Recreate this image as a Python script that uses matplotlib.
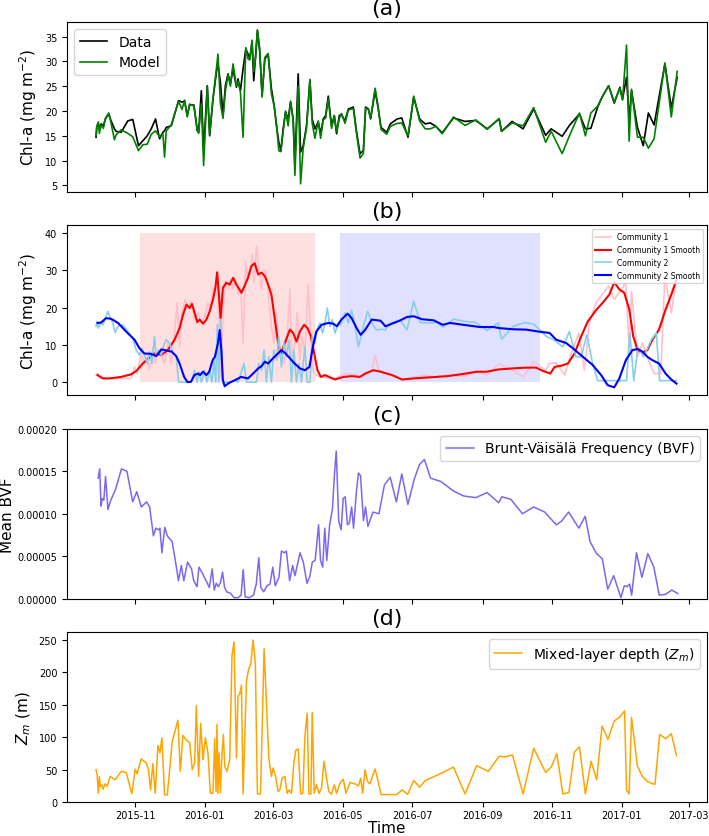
import numpy as np
import pandas as pd
import matplotlib
matplotlib.use('Agg')
import matplotlib.pyplot as plt
import matplotlib.dates as mdates
from matplotlib.ticker import FormatStrFormatter, MultipleLocator

# all x values are days after this date
base = pd.Timestamp('2015-11-01')

# ---- panel (a): measured vs modelled chl-a ------------------------------
chl_days = [-34.3, -33.7, -32.3, -31.4, -29.9, -27.9, -26.1, -23.2, -21.1, -18.2,
            -16.7, -12.3, -6.5, -2.1, 2.9, 6.7, 10.6, 14.1, 17.9, 21.4,
            24.3, 25.8, 27.3, 31.7, 38.1, 41.1, 43.4, 45.7, 47.8, 51.6,
            54.5, 55.7, 58.1, 60.1, 63.3, 65.4, 68.3, 71.3, 72.7, 74.8,
            77.1, 79.2, 81.5, 83.6, 85.9, 88.9, 90.3, 92.4, 94.7, 97.1,
            99.1, 100.6, 102.6, 104.1, 105.9, 107.3, 109.4, 111.4, 113.8, 116.7,
            119.6, 122.0, 124.0, 126.1, 127.9, 129.9, 132.0, 134.3, 136.4, 138.7,
            140.2, 143.1, 145.2, 147.5, 150.4, 153.4, 155.4, 157.8, 160.7, 162.8,
            165.1, 167.2, 169.5, 172.4, 174.8, 176.8, 179.2, 181.2, 184.2, 187.1,
            191.5, 194.4, 197.4, 200.3, 202.3, 204.7, 206.7, 210.6, 212.9, 215.8,
            220.8, 224.0, 230.0, 234.0, 239.5, 244.5, 249.7, 254.6, 259.0, 264.0,
            269.5, 279.4, 289.6, 299.0, 309.0, 319.5, 321.6, 330.9, 340.5, 349.8,
            360.3, 365.2, 374.8, 381.2, 390.0, 395.2, 400.0, 406.0, 409.8, 415.6,
            420.5, 425.5, 427.8, 431.3, 433.6, 435.7, 440.9, 446.0, 450.5, 455.5,
            465.0, 470.6, 475.8]
chl_data = [14.7, 16.7, 17.4, 16.4, 17.4, 17.0, 18.4, 19.4, 18.0, 16.4,
            15.9, 15.7, 18.0, 18.3, 13.0, 14.0, 15.0, 16.4, 18.4, 14.4,
            15.7, 16.0, 16.7, 17.0, 22.1, 21.8, 22.0, 19.1, 21.2, 21.2,
            16.0, 15.7, 24.1, 12.0, 25.1, 15.0, 22.4, 27.8, 29.5, 25.8,
            19.1, 25.1, 27.5, 25.5, 28.5, 24.8, 26.5, 24.1, 28.5, 32.5,
            31.5, 30.5, 33.9, 26.1, 31.8, 36.2, 31.8, 23.1, 30.5, 31.5,
            24.5, 21.1, 17.1, 13.7, 12.0, 16.4, 19.8, 18.4, 21.8, 18.4,
            9.0, 27.5, 11.7, 13.0, 17.0, 26.1, 18.4, 16.4, 17.8, 15.4,
            18.4, 19.1, 23.0, 17.0, 19.1, 15.4, 19.1, 19.2, 18.0, 20.4,
            20.8, 15.7, 11.4, 12.0, 20.8, 20.4, 18.4, 24.1, 21.1, 16.7,
            15.7, 17.4, 18.4, 18.6, 14.7, 22.8, 18.4, 17.4, 17.6, 16.9,
            15.6, 18.6, 17.9, 18.1, 16.4, 18.4, 15.9, 17.9, 16.4, 20.4,
            15.1, 16.4, 14.9, 17.1, 19.4, 16.4, 16.5, 20.8, 22.8, 25.1,
            21.6, 24.8, 22.4, 26.8, 18.4, 24.1, 16.7, 13.0, 19.6, 17.2,
            29.5, 20.6, 26.8]
chl_model = [15.0, 17.0, 17.8, 15.5, 17.2, 16.5, 18.5, 19.6, 17.5, 14.2,
             15.2, 16.2, 15.5, 14.8, 12.0, 13.2, 13.3, 15.3, 16.0, 14.8,
             15.5, 10.7, 16.0, 17.2, 22.0, 20.3, 22.2, 18.8, 21.4, 21.0,
             16.2, 15.5, 21.5, 9.0, 25.0, 15.2, 22.5, 28.5, 31.5, 21.5,
             18.5, 24.0, 27.3, 25.0, 29.5, 25.0, 26.0, 23.8, 14.7, 32.8,
             30.5, 30.3, 34.3, 28.0, 31.0, 36.4, 32.5, 22.8, 30.8, 31.6,
             23.5, 21.0, 17.5, 12.0, 11.8, 15.8, 20.0, 17.0, 22.0, 18.0,
             7.0, 25.0, 5.3, 12.5, 16.5, 26.4, 17.5, 14.5, 18.0, 14.5,
             18.2, 18.6, 22.4, 16.5, 19.0, 15.8, 18.5, 19.5, 17.5, 20.2,
             20.5, 15.3, 10.5, 11.4, 20.6, 20.3, 18.6, 24.6, 21.5, 16.3,
             15.3, 16.9, 17.5, 17.6, 15.0, 23.0, 18.0, 16.4, 16.4, 16.9,
             15.4, 18.8, 17.1, 18.2, 16.3, 18.5, 15.9, 17.6, 17.0, 20.7,
             13.7, 15.9, 11.4, 15.0, 19.6, 15.0, 19.6, 21.0, 22.8, 25.1,
             21.8, 24.6, 22.2, 33.3, 13.9, 24.4, 14.7, 14.7, 12.5, 14.4,
             29.7, 18.8, 28.0]

# ---- panel (b): two communities (day, value) ----------------------------
comm1 = [(-34.3, 1.9), (-32.8, 2.3), (-31.4, 1.3), (-28.4, 1.0), (-21.1, 1.0),
         (-12.3, 1.0), (-3.5, 1.0), (-0.6, 4.1), (1.8, 2.3), (5.3, 7.7),
         (8.2, 5.0), (10.6, 6.8), (12.6, 3.2), (15.5, 9.1), (17.6, 5.0),
         (20.5, 8.6), (22.9, 7.3), (25.8, 5.0), (28.7, 10.5), (31.7, 5.0),
         (34.6, 13.2), (36.9, 21.3), (39.0, 9.5), (41.1, 18.6), (44.0, 22.2),
         (46.3, 20.4), (49.3, 21.7), (52.2, 16.8), (55.1, 18.6), (58.1, 15.9),
         (61.0, 17.7), (63.9, 21.3), (65.9, 19.5), (68.3, 24.9), (70.7, 25.8),
         (72.1, 29.4), (73.6, 16.8), (75.1, 1.4), (77.1, 19.5), (79.2, 27.1),
         (81.5, 24.9), (83.6, 27.6), (85.9, 24.9), (88.0, 27.6), (90.3, 23.5),
         (92.7, 24.9), (94.7, 10.5), (97.1, 32.1), (99.1, 27.6), (101.2, 29.4),
         (102.9, 34.3), (104.4, 26.7), (106.5, 36.6), (108.5, 31.2), (110.9, 24.9),
         (112.9, 30.3), (115.2, 29.8), (117.3, 22.2), (119.6, 15.0), (121.7, 10.5),
         (124.0, 18.6), (126.1, 6.8), (128.4, 8.6), (130.8, 5.0), (132.8, 8.6),
         (135.8, 24.9), (137.8, 5.0), (140.2, 10.5), (142.2, 18.6), (144.6, 5.9),
         (146.6, 12.3), (149.0, 7.7), (151.9, 26.2), (154.3, 11.4), (156.3, 2.8),
         (159.2, 1.9), (162.2, 1.4), (166.6, 1.3), (171.0, 1.0), (175.4, 1.0),
         (181.2, 1.9), (187.1, 2.3), (193.0, 1.9), (198.8, 1.6), (203.2, 2.3),
         (207.6, 2.8), (210.6, 7.3), (213.5, 3.2), (215.4, 2.8), (224.0, 1.9),
         (234.3, 0.7), (244.5, 1.3), (254.6, 1.9), (264.0, 1.4), (273.6, 1.9),
         (289.6, 1.6), (299.7, 2.8), (309.0, 1.9), (319.5, 5.0), (330.9, 3.2),
         (340.5, 1.4), (349.8, 5.5), (360.3, 3.2), (363.8, 5.0), (369.6, 5.2),
         (377.0, 1.9), (382.8, 7.7), (389.4, 13.2), (394.3, 3.2), (398.7, 15.9),
         (404.5, 21.3), (409.8, 23.5), (415.6, 25.8), (420.5, 22.2), (425.5, 24.4),
         (430.7, 26.7), (433.6, 8.6), (435.7, 24.4), (441.0, 6.8), (445.3, 10.5),
         (450.5, 5.9), (455.5, 2.3), (461.3, 2.3), (465.0, 28.5), (470.6, 18.6),
         (475.2, 28.0)]
comm1_smooth = [(-33, 1.9), (-28.4, 1.0), (-22.6, 1.0), (-12.3, 1.4), (-3.5, 2.1),
                (1, 3.0), (6.7, 5.0), (11.7, 6.4), (17, 7.7), (23, 7.3),
                (28.7, 8.6), (34.6, 11.4), (39, 14.5), (42, 18.1), (45, 20.8),
                (47.8, 19.9), (49.9, 21.0), (52.2, 18.6), (54.5, 16.1), (56.6, 16.8),
                (59.5, 15.7), (62.5, 16.8), (65.4, 19.0), (68.3, 22.2), (70.4, 25.3),
                (72, 29.5), (73.6, 23.0), (75, 17.2), (77, 25.3), (80, 26.7),
                (83, 26.2), (86, 28.0), (88.9, 26.2), (93.3, 24.0), (96, 25.8),
                (99, 28.0), (102, 31.2), (105, 31.9), (108, 28.9), (110.8, 29.4),
                (113.8, 28.5), (116.7, 26.2), (119.6, 23.5), (122.6, 16.8), (125.5, 10.5),
                (127.9, 7.7), (131.4, 10.5), (135.8, 14.1), (138.7, 13.2), (141.6, 10.9),
                (144.6, 13.6), (148.4, 15.4), (151.3, 14.5), (154.3, 12.3), (157.2, 7.7),
                (160, 3.2), (163, 1.4), (166.6, 1.9), (171, 1.3), (175.4, 0.7),
                (182.7, 1.4), (190, 1.6), (197.4, 1.4), (201.8, 2.3), (209, 3.2),
                (215.4, 2.8), (225.5, 1.9), (234.3, 0.7), (244.5, 1.0), (259, 1.3),
                (273.6, 1.6), (288, 2.2), (299.7, 2.8), (308.5, 2.8), (318.7, 3.4),
                (331.8, 3.7), (343.4, 3.9), (352, 3.9), (358, 3.0), (364.4, 2.3),
                (368.2, 4.1), (374, 4.4), (379.8, 5.0), (385.7, 7.7), (391.5, 12.3),
                (397.3, 16.3), (404.5, 19.3), (410.3, 21.3), (416.2, 23.5), (420.5, 26.8),
                (425, 24.9), (429.3, 24.0), (433.7, 19.5), (437.2, 12.3), (441, 8.6),
                (445.3, 7.9), (449.6, 8.6), (454, 11.4), (459.8, 14.1), (465.6, 19.5),
                (470.6, 23.5), (475.2, 27.6)]
comm2 = [(-34.3, 15.0), (-33.4, 16.3), (-32.3, 14.5), (-30.5, 15.9), (-28.4, 15.4),
         (-26.1, 17.2), (-24.0, 19.0), (-21.7, 17.2), (-19.6, 15.9), (-17.6, 13.3),
         (-15.2, 15.0), (-10.9, 15.4), (-6.5, 13.6), (-2.1, 11.8), (0.9, 8.6),
         (3.8, 7.3), (5.9, 9.1), (8.2, 7.3), (10.6, 5.0), (12.6, 8.2),
         (14.7, 5.0), (17.0, 12.3), (18.5, 6.8), (20.5, 8.6), (22.9, 7.3),
         (25.2, 10.0), (27.3, 11.4), (30.2, 10.5), (33.1, 7.7), (36.1, 6.8),
         (38.1, 0.0), (44.9, 0.0), (49.3, 0.0), (52.2, 3.2), (54.3, 0.0),
         (56.0, 2.8), (58.1, 0.0), (61.0, 3.2), (63.0, 0.0), (65.4, 3.2),
         (67.4, 0.0), (69.2, 5.9), (70.7, 0.0), (72.1, 15.4), (73.3, 0.0),
         (75.1, 16.8), (76.5, 0.5), (78.6, 0.0), (84.5, 0.0), (87.4, 0.5),
         (90.3, 0.0), (95.6, 5.0), (97.7, 0.0), (106.5, 0.0), (108.5, 5.0),
         (110.9, 3.2), (113.2, 8.6), (115.2, 0.0), (117.3, 6.8), (119.6, 0.0),
         (121.7, 8.6), (124.0, 5.9), (126.1, 12.3), (128.4, 4.1), (130.8, 10.5),
         (132.8, 6.8), (135.2, 11.4), (137.2, 0.0), (139.3, 8.6), (141.6, 0.0),
         (143.7, 5.0), (146.0, 0.0), (149.0, 9.5), (151.0, 0.0), (153.4, 0.0),
         (155.4, 12.3), (157.8, 10.5), (159.8, 14.0), (162.2, 15.9), (164.5, 13.2),
         (166.6, 15.9), (168.6, 19.9), (171.0, 15.0), (173.0, 16.8), (175.4, 13.2),
         (177.7, 15.0), (181.2, 15.9), (184.2, 18.6), (187.1, 15.9), (190.0, 19.3),
         (193.0, 15.0), (195.9, 9.5), (198.2, 12.3), (201.2, 15.9), (204.1, 19.0),
         (207.6, 15.9), (212.0, 14.0), (216.4, 14.2), (219.7, 14.0), (224.0, 15.9),
         (232.8, 16.6), (238.6, 14.0), (244.5, 21.7), (250.3, 16.0), (259.0, 15.9),
         (264.8, 16.0), (270.0, 14.8), (279.4, 16.9), (289.6, 16.3), (299.0, 16.0),
         (309.0, 13.9), (318.7, 15.9), (321.6, 11.5), (331.8, 15.0), (342.0, 16.0),
         (349.8, 15.6), (360.8, 12.3), (366.7, 11.5), (375.4, 9.5), (381.2, 13.6),
         (387.0, 6.8), (391.5, 6.8), (396.4, 12.7), (401.6, 5.0), (406.0, 0.4),
         (420.5, 0.4), (431.3, 0.4), (434.2, 13.2), (437.7, 0.4), (441.4, 9.5),
         (446.0, 6.8), (450.3, 9.5), (453.0, 11.4), (457.5, 13.2), (460.4, 0.4),
         (475.2, 0.4)]
comm2_smooth = [(-33, 15.9), (-30, 16.0), (-25.5, 17.2), (-21, 17.0), (-15, 15.9),
                (-8, 13.6), (-0.6, 11.4), (3.8, 9.1), (8, 7.7), (14, 7.6),
                (18.5, 7.0), (23, 8.8), (26, 8.6), (32, 8.2), (36, 7.0),
                (39, 5.0), (43, 1.4), (46, 0.0), (49, 0.1), (52, 1.9),
                (55, 2.3), (57, 1.9), (59.5, 2.8), (62.5, 1.9), (65, 2.8),
                (68, 5.9), (70, 6.8), (72.7, 10.5), (74.2, 14.0), (75.7, 8.6),
                (77, 0.5), (78.6, -1.1), (81.5, -0.4), (84.5, 0.1), (87.4, 0.5),
                (93, 1.4), (99, 1.0), (103.5, 2.3), (108, 3.7), (111, 4.3),
                (113.8, 5.5), (116.7, 5.0), (120, 6.1), (124, 7.3), (128.4, 8.6),
                (132, 7.7), (135.8, 6.4), (140, 5.0), (144.6, 3.7), (149, 3.2),
                (153, 4.1), (156, 9.5), (159, 13.6), (163.6, 15.4), (169.5, 15.9),
                (174, 15.7), (177, 15.0), (181, 16.8), (186.5, 18.4), (190, 17.2),
                (194.4, 14.5), (198, 12.7), (201.8, 14.0), (207.6, 16.8), (215.4, 16.5),
                (219.7, 15.0), (225.5, 15.7), (232.8, 16.6), (238.6, 17.5), (244.5, 17.7),
                (251.7, 16.9), (262, 16.6), (270, 15.4), (276.5, 15.9), (288, 15.4),
                (302.6, 14.8), (314.3, 14.8), (320, 14.5), (331.8, 14.2), (343.4, 14.1),
                (353.6, 13.6), (363.8, 13.2), (369.6, 11.4), (378.3, 10.5), (384.2, 9.1),
                (393, 6.8), (401.6, 4.6), (409, 1.9), (414.7, -0.8), (420.5, -1.4),
                (425, 1.0), (430.7, 5.9), (436.5, 8.6), (441, 8.9), (445.3, 8.2),
                (449.6, 6.8), (454, 5.9), (459.8, 5.0), (465.6, 2.3), (470.6, 0.7),
                (475.2, -0.4)]
spans_c1 = ['2015-11-05', '2016-04-07']
spans_c2 = ['2016-04-29', '2016-10-21']

# ---- panel (c): mean BVF, values in 1e-5 ---------------------------------
bvf = [(-32.5, 14.2), (-31.1, 15.3), (-30.0, 10.9), (-28.9, 11.8), (-27.5, 11.6),
       (-26.0, 14.4), (-23.9, 10.5), (-21.7, 11.5), (-17.4, 12.8), (-12.0, 15.3),
       (-7.2, 15.0), (-2.2, 11.4), (1.4, 12.6), (5.4, 10.8), (10.0, 11.4),
       (12.7, 10.8), (16.0, 7.4), (18.1, 8.3), (20.6, 8.1), (21.7, 8.3),
       (23.5, 5.4), (26.0, 8.4), (28.2, 7.4), (32.5, 6.7), (36.2, 3.7),
       (38.0, 2.1), (40.5, 3.9), (42.7, 2.1), (46.0, 4.3), (49.5, 3.5),
       (51.4, 2.1), (54.3, 1.4), (56.0, 3.7), (59.3, 2.9), (63.0, 1.9),
       (65.1, 1.3), (67.6, 3.5), (69.4, 1.0), (71.2, 1.8), (73.1, 1.4),
       (74.9, 1.9), (76.7, 3.1), (78.5, 1.3), (80.3, 0.8), (83.9, 0.6),
       (86.8, 0.1), (90.4, 0.1), (93.0, 0.4), (94.8, 3.4), (96.6, 0.2),
       (100.2, 0.1), (103.8, 0.4), (106.3, 1.7), (108.5, 4.8), (110.3, 1.3),
       (112.8, 0.8), (115.7, 1.5), (118.3, 1.7), (120.8, 3.7), (123.0, 1.5),
       (126.2, 2.5), (128.4, 5.6), (131.0, 5.4), (132.7, 5.6), (135.6, 2.1),
       (138.2, 3.9), (140.3, 2.7), (144.7, 5.4), (147.6, 4.3), (150.8, 1.8),
       (153.3, 2.6), (155.5, 4.3), (158.0, 4.5), (161.0, 8.7), (162.7, 4.5),
       (164.6, 3.7), (166.4, 8.3), (168.2, 4.5), (170.7, 8.7), (173.2, 10.6),
       (175.0, 14.8), (176.5, 17.4), (178.7, 9.1), (180.8, 8.1), (182.6, 11.8),
       (184.4, 12.0), (186.3, 8.7), (188.0, 8.9), (190.0, 10.8), (191.7, 8.3),
       (194.2, 12.6), (196.0, 14.8), (197.8, 14.5), (200.4, 9.2), (202.2, 10.8),
       (204.3, 8.5), (208.7, 10.2), (214.0, 10.0), (218.8, 13.4), (223.9, 14.3),
       (229.3, 11.4), (234.0, 14.7), (239.4, 11.1), (244.8, 14.0), (249.5, 15.8),
       (253.9, 16.4), (259.3, 14.2), (268.4, 13.8), (279.2, 12.7), (288.2, 12.1),
       (299.0, 11.9), (308.9, 12.5), (319.0, 11.3), (321.9, 12.0), (329.8, 11.7),
       (340.0, 10.0), (349.7, 10.8), (359.5, 10.2), (369.6, 8.7), (374.0, 9.1),
       (380.5, 10.2), (389.5, 8.3), (395.0, 9.7), (399.3, 6.7), (405.0, 5.3),
       (410.0, 4.7), (414.8, 1.1), (420.0, 2.7), (426.4, 0.1), (429.3, 1.5),
       (431.8, 1.4), (434.0, 1.7), (435.8, 0.4), (440.0, 5.4), (444.8, 2.5),
       (450.0, 5.3), (455.3, 3.7), (460.0, 0.4), (465.5, 0.5), (471.0, 1.0),
       (476.3, 0.6)]

# ---- panel (d): mixed-layer depth (m) ------------------------------------
zm = [(-34.3, 49.7), (-33.4, 42.0), (-32.3, 13.5), (-31.4, 39.3), (-30.5, 23.8),
      (-29.3, 26.4), (-28.2, 19.7), (-26.4, 28.0), (-24.6, 23.8), (-22.0, 39.3),
      (-17.6, 34.2), (-12.3, 47.1), (-7.9, 45.5), (-2.9, 12.4), (0.0, 50.7),
      (1.8, 43.5), (5.3, 66.3), (9.7, 60.0), (11.7, 49.7), (13.5, 18.6),
      (15.5, 59.0), (17.6, 13.5), (20.0, 87.0), (21.7, 75.6), (23.5, 98.9),
      (25.8, 10.9), (28.2, 10.9), (32.6, 93.7), (37.5, 125.8), (39.6, 47.1),
      (41.9, 102.5), (45.7, 93.7), (47.8, 92.1), (50.1, 49.7), (52.2, 60.0),
      (53.7, 148.0), (55.7, 39.3), (57.5, 121.0), (59.5, 65.2), (61.6, 98.9),
      (63.9, 75.6), (66.0, 13.5), (68.3, 13.5), (69.8, 97.3), (71.0, 16.0),
      (71.8, 119.6), (72.7, 13.5), (73.6, 75.6), (74.8, 14.5), (76.2, 73.0),
      (77.4, 104.0), (78.6, 54.9), (80.6, 47.1), (83.0, 65.2), (85.0, 225.7),
      (86.8, 246.4), (88.9, 67.8), (90.3, 163.6), (91.8, 166.1), (93.3, 180.1),
      (94.7, 12.4), (97.7, 186.9), (99.7, 205.0), (101.5, 212.7), (103.5, 249.0),
      (105.5, 212.7), (107.3, 12.4), (110.0, 12.4), (113.2, 236.0), (115.2, 153.2),
      (117.3, 67.8), (119.6, 39.3), (121.1, 52.3), (123.2, 39.3), (125.5, 16.0),
      (127.0, 18.6), (129.0, 36.7), (131.4, 39.3), (133.4, 13.5), (135.2, 18.6),
      (137.2, 13.5), (139.3, 60.0), (141.0, 79.7), (143.1, 81.8), (145.2, 12.4),
      (147.2, 13.5), (149.0, 101.4), (151.0, 136.6), (152.5, 12.4), (154.3, 12.4),
      (155.4, 137.7), (157.2, 13.5), (159.2, 26.4), (161.3, 13.5), (163.6, 21.2),
      (165.7, 62.6), (168.0, 36.7), (170.0, 16.0), (172.4, 11.9), (174.8, 26.4),
      (176.8, 13.5), (179.8, 29.0), (182.7, 35.2), (185.0, 13.5), (188.6, 30.0),
      (193.0, 28.0), (196.0, 24.8), (198.0, 36.7), (199.7, 13.5), (201.8, 49.7),
      (204.0, 31.6), (206.0, 28.0), (210.6, 50.7), (213.0, 34.2), (215.8, 11.4),
      (220.8, 11.4), (229.3, 11.4), (234.3, 18.6), (239.2, 11.9), (244.5, 33.1),
      (249.7, 22.8), (254.6, 33.1), (267.7, 43.5), (279.4, 53.8), (289.6, 12.4),
      (299.8, 55.9), (310.0, 47.1), (319.5, 70.4), (324.5, 69.4), (331.2, 72.5),
      (340.5, 12.4), (349.8, 82.8), (360.3, 45.5), (365.2, 53.8), (370.2, 74.5),
      (375.4, 12.4), (380.7, 14.5), (385.6, 77.1), (390.0, 84.9), (395.2, 12.4),
      (400.2, 62.6), (405.1, 34.2), (409.8, 117.0), (415.0, 96.3), (420.5, 124.7),
      (424.9, 130.0), (429.6, 140.3), (431.3, 18.6), (433.6, 12.4), (435.7, 130.0),
      (440.9, 54.9), (445.3, 39.3), (449.6, 31.6), (454.0, 28.0), (456.3, 27.4),
      (460.4, 104.0), (465.6, 97.3), (470.6, 105.1), (475.2, 71.4)]


def to_dates(days):
    return base + pd.to_timedelta(np.asarray(days, dtype=float), unit='D')


def split(pairs):
    d, v = zip(*pairs)
    return to_dates(d), np.array(v)


#------------------------------------------------------------
fig, axes = plt.subplots(4, 1, sharex=True, figsize=(7.09, 8.37), dpi=100)
fig.subplots_adjust(left=0.0945, right=0.997, top=0.9725, bottom=0.0406, hspace=0.2)
ax_a, ax_b, ax_c, ax_d = axes

# (a)
t = to_dates(chl_days)
ax_a.plot(t, chl_data, color='black', lw=1.2, label='Data')
ax_a.plot(t, chl_model, color='green', lw=1.2, label='Model')
ax_a.set_ylabel('Chl-a (mg m$^{-2}$)', fontsize=11)
ax_a.legend(loc='upper left', fontsize=10)

# (b)
ax_b.fill_between(pd.to_datetime(spans_c1), 0, 40, color='red', alpha=0.12, lw=0)
ax_b.fill_between(pd.to_datetime(spans_c2), 0, 40, color='blue', alpha=0.12, lw=0)
for series, col, lw, lab in [(comm1, 'pink', 1.2, 'Community 1'),
                             (comm1_smooth, 'red', 1.5, 'Community 1 Smooth'),
                             (comm2, 'skyblue', 1.2, 'Community 2'),
                             (comm2_smooth, 'blue', 1.5, 'Community 2 Smooth')]:
    x, y = split(series)
    ax_b.plot(x, y, color=col, lw=lw, label=lab)
ax_b.set_ylabel('Chl-a (mg m$^{-2}$)', fontsize=11)
ax_b.legend(loc='upper right', fontsize=5.5)

# (c)
x, y = split(bvf)
ax_c.plot(x, y * 1e-5, color='mediumslateblue', lw=1.1, label='Brunt-Väisälä Frequency (BVF)')
ax_c.set_ylim(0, 0.0002)
ax_c.yaxis.set_major_locator(MultipleLocator(0.00005))
ax_c.yaxis.set_major_formatter(FormatStrFormatter('%.5f'))
ax_c.set_ylabel('Mean BVF', fontsize=11, labelpad=2)
ax_c.legend(loc='upper right', fontsize=10)

# (d)
x, y = split(zm)
ax_d.plot(x, y, color='orange', lw=1.1, label='Mixed-layer depth ($Z_m$)')
ax_d.set_ylim(bottom=0)
ax_d.set_ylabel('$Z_m$ (m)', fontsize=11)
ax_d.set_xlabel('Time', fontsize=11, labelpad=0)
ax_d.legend(loc='upper right', fontsize=10)

for ax, lab in zip(axes, ['(a)', '(b)', '(c)', '(d)']):
    ax.set_title(lab, fontsize=16)
    ax.tick_params(labelsize=7)
ax_d.tick_params(axis='x', pad=2)

ax_d.xaxis.set_major_locator(mdates.MonthLocator(bymonth=[1, 3, 5, 7, 9, 11]))
ax_d.xaxis.set_major_formatter(mdates.DateFormatter('%Y-%m'))

fig.savefig('out.png', dpi=100)
